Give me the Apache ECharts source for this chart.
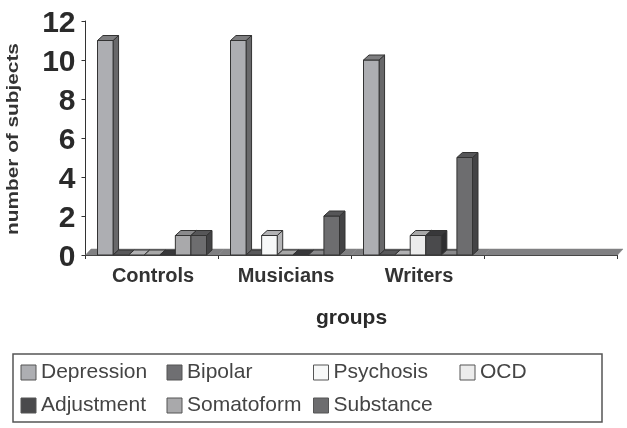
<!DOCTYPE html>
<html>
<head>
<meta charset="utf-8">
<style>html,body{margin:0;padding:0;background:#fff}#c{width:627px;height:428px}</style>
<script src="https://cdn.jsdelivr.net/npm/echarts@6/dist/echarts.min.js"></script>
</head>
<body>
<div id="c"></div>
<script>
const categories = ['Controls', 'Musicians', 'Writers', ''];
const yTicks = { min: 0, max: 12, interval: 2 };
const Depression = [11, 11, 10];
const Bipolar = [0, 0, 0];
const Psychosis = [0, 1, 0];
const OCD = [0, 0, 1];
const Adjustment = [0, 0, 1];
const Somatoform = [1, 0, 0];
const Substance = [1, 2, 5];

const seriesNames = ['Depression', 'Bipolar', 'Psychosis', 'OCD', 'Adjustment', 'Somatoform', 'Substance'];
const seriesValues = [Depression, Bipolar, Psychosis, OCD, Adjustment, Somatoform, Substance];
const fronts = ['#adaeb2', '#6f6f72', '#f7f8f8', '#ececec', '#4a4a4c', '#a9a9ab', '#6d6d6f'];
const sides  = ['#68686a', '#454547', '#b4b4b6', '#a8a8a8', '#2e2e30', '#6a6a6c', '#434345'];
const tops   = ['#7e7e80', '#59595b', '#b2b2b4', '#a8a8a8', '#38383a', '#8a8a8c', '#565658'];
const DX = 5.5, DY = 5, GROUP = 109 / 133;
const edge = { stroke: '#333', lineWidth: 1 };

function poly(points, fill) {
  return { type: 'polygon', shape: { points }, style: Object.assign({ fill }, edge) };
}
function renderBar(params, api) {
  const s = params.seriesIndex - 1;
  const cat = api.value(0);
  const c = api.coord([cat, 0]);
  const top = api.coord([cat, api.value(1)])[1];
  const cw = api.size([1, 0])[0];
  const w = cw * GROUP / 7;
  const x = c[0] - cw * GROUP / 2 + s * w;
  const y0 = c[1];
  const children = [];
  if (top < y0) {
    children.push(poly([[x + w, y0], [x + w + DX, y0 - DY], [x + w + DX, top - DY], [x + w, top]], sides[s]));
    children.push(poly([[x, y0], [x + w, y0], [x + w, top], [x, top]], fronts[s]));
  }
  children.push(poly([[x, top], [x + w, top], [x + w + DX, top - DY], [x + DX, top - DY]], tops[s]));
  return { type: 'group', children };
}
function renderFloor(params, api) {
  const cat = api.value(0);
  const c = api.coord([cat, 0]);
  const cw = api.size([1, 0])[0];
  const a = c[0] - cw / 2, b = c[0] + cw / 2, y = c[1];
  return {
    type: 'polygon',
    shape: { points: [[a, y], [b, y], [b + DX, y - DY - 1], [a + DX, y - DY - 1]] },
    style: { fill: '#808082', stroke: '#808082', lineWidth: 0.5 }
  };
}

const series = [{
  type: 'custom', name: 'floor', renderItem: renderFloor, clip: false, silent: true,
  data: categories.map((_, i) => [i]), encode: { x: 0 }, z: 1
}].concat(seriesNames.map((name, s) => ({
  type: 'custom', name, renderItem: renderBar, clip: false, z: 2,
  itemStyle: { color: fronts[s] },
  encode: { x: 0, y: 1 },
  data: seriesValues[s].map((v, i) => [i, v])
})));

const legendColumns = [
  { left: 20.5, data: ['Depression', 'Adjustment'] },
  { left: 166.5, data: ['Bipolar', 'Somatoform'] },
  { left: 313, data: ['Psychosis', 'Substance'] },
  { left: 459.5, data: ['OCD'] }
];

const chart = echarts.init(document.getElementById('c'), null, { renderer: 'canvas' });
chart.setOption({
  animation: false,
  backgroundColor: '#fff',
  textStyle: { fontFamily: 'Liberation Sans' },
  grid: { left: 85.5, right: 9.5, top: 21, bottom: 173 },
  xAxis: {
    type: 'category', data: categories,
    name: 'groups', nameLocation: 'middle', nameGap: 53,
    nameTextStyle: { fontSize: 21, fontWeight: 'bold', color: '#2a2a2a' },
    axisLine: { onZero: false, lineStyle: { color: '#333', width: 1 } },
    axisTick: { show: true, length: 4, lineStyle: { color: '#333' } },
    axisLabel: { fontSize: 20, fontWeight: 'bold', color: '#333', margin: 11, interval: 0, padding: [0, 0, 0, 2] }
  },
  yAxis: {
    type: 'value', min: yTicks.min, max: yTicks.max, interval: yTicks.interval,
    splitLine: { show: false },
    axisLine: { show: true, lineStyle: { color: '#333', width: 1 } },
    axisTick: { show: true, length: 4, lineStyle: { color: '#333' } },
    axisLabel: {
      fontSize: 30, fontWeight: 'bold', color: '#2a2a2a', margin: 10,
      formatter: '{n|{value}}',
      rich: { n: { fontSize: 30, fontWeight: 'bold', color: '#2a2a2a', padding: [5, 0, 0, 0] } }
    }
  },
  legend: legendColumns.map(col => ({
    left: col.left, top: 362, orient: 'vertical', padding: 0,
    data: col.data, icon: 'rect', itemWidth: 15, itemHeight: 15, itemGap: 12,
    selectedMode: false,
    itemStyle: { borderColor: '#555', borderWidth: 1 },
    textStyle: { fontSize: 21, color: '#444', fontFamily: 'Liberation Sans' }
  })),
  graphic: [
    { type: 'rect', shape: { x: 13, y: 354, width: 589, height: 68 }, style: { fill: 'none', stroke: '#555', lineWidth: 1.5 }, silent: true, z: -1 },
    { type: 'text', x: 14, y: 139, rotation: Math.PI / 2, scaleX: 1.3, silent: true,
      style: { text: 'number of subjects', font: 'bold 16px "Liberation Sans"', fill: '#333', align: 'center', verticalAlign: 'middle' } }
  ],
  series
});
</script>
</body>
</html>
